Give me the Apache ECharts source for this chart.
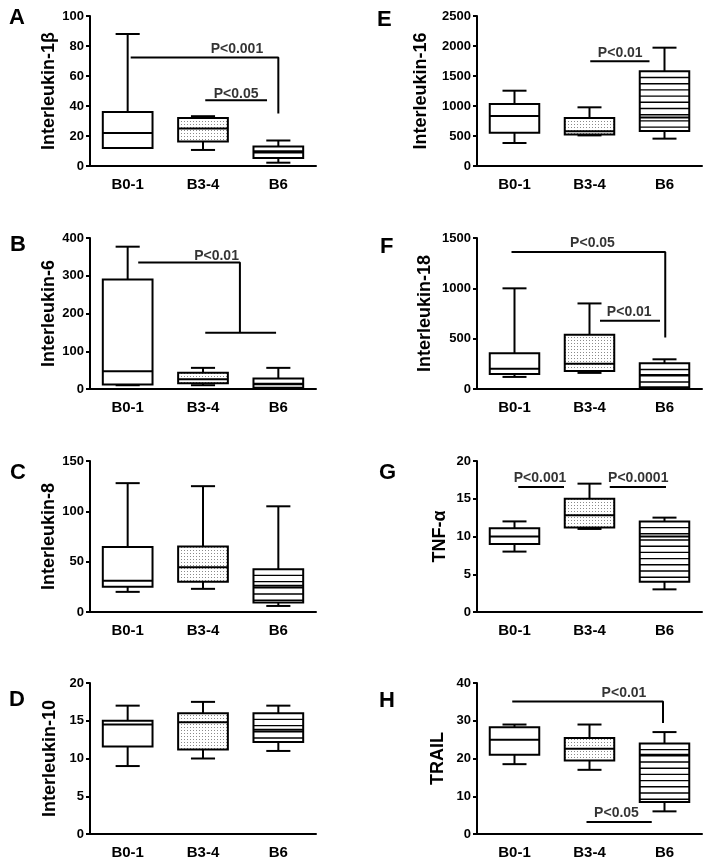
<!DOCTYPE html>
<html><head><meta charset="utf-8">
<script src="https://cdn.jsdelivr.net/npm/echarts@6/dist/echarts.min.js"></script>
<style>html,body{margin:0;padding:0;background:#fff}#c{width:714px;height:867px}</style>
</head><body><div id="c"></div><script>
const categories = ['B0-1','B3-4','B6'];
// each group: [min, q1, median, q3, max]
const il1b  = [[12,12,22,36,88],[10.7,16.3,25,32,33.2],[2.2,5.3,9.8,13,17]];
const il6   = [[10,12,47,290,377],[10,15,26,43,56],[1,3,14,28,56]];
const il8   = [[20,25,31,64.5,128],[23,30,44.5,65,125],[6,9.5,26,42.5,105]];
const il10  = [[9,11.6,14.5,15,17],[10,11.2,14.8,16,17.5],[11,12.2,13.8,16,17]];
const il16  = [[383,556,833,1033,1255],[510,525,580,800,978],[456,583,807,1578,1972]];
const il18  = [[120,150,200,355,1000],[160,180,250,540,850],[5,17,140,255,295]];
const tnfa  = [[8,9,10,11.1,12],[11,11.2,12.8,15,17],[3,4,10,12,12.5]];
const trail = [[18.5,21,25,28.3,29],[17,19.5,22.6,25.4,29],[6,8.5,21,24,27]];

// axis names and ranges
const yNames = ['Interleukin-1β','Interleukin-6','Interleukin-8','Interleukin-10','Interleukin-16','Interleukin-18','TNF-α','TRAIL'];
const yMax = [100,400,150,20,2500,1500,20,40];
const yStep = [20,100,50,5,500,500,5,10];
const letters = ['A','B','C','D','E','F','G','H'];

// significance brackets (x in category units, y in data units)
const brA = [[[0.04,72.4],[2,72.4],[2,35]], [[1.03,43.9],[1.85,43.9]]];
const brB = [[[0.14,335],[1.49,335],[1.49,149]], [[1.03,149],[1.97,149]]];
const brC = [];
const brD = [];
const brE = [[[1.01,1744],[1.80,1744]]];
const brF = [[[-0.04,1361],[2.01,1361],[2.01,511]], [[1.14,677],[1.94,677]]];
const brG = [[[0.05,16.56],[0.66,16.56]], [[1.27,16.56],[2.02,16.56]]];
const brH = [[[-0.03,35.1],[1.98,35.1],[1.98,29.4]], [[0.96,3.19],[1.83,3.19]]];
// p-value labels: [text, x, y]
const pA = [['P<0.001',1.45,78.2],['P<0.05',1.44,47.8]];
const pB = [['P<0.01',1.18,351]];
const pC = [];
const pD = [];
const pE = [['P<0.01',1.41,1883]];
const pF = [['P<0.05',1.04,1447],['P<0.01',1.53,762]];
const pG = [['P<0.001',0.34,17.7],['P<0.0001',1.65,17.7]];
const pH = [['P<0.01',1.46,37.4],['P<0.05',1.36,5.5]];

const allData = [il1b, il6, il8, il10, il16, il18, tnfa, trail];
const allBr = [brA, brB, brC, brD, brE, brF, brG, brH];
const allP = [pA, pB, pC, pD, pE, pF, pG, pH];

// layout (pixels)
const colLeft = [90, 477];
const colWidth = [226, 225];
const rowTop = [16, 238, 461, 683];
const rowH = [150, 151, 151, 151];
const nameGaps = [30, 32, 31, 31, 47, 43, 28, 30];
const letterPos = [[9,7],[10,234],[10,462],[9,689],[377,9],[380,236],[379,462],[379,690]];

const FONT = '"Liberation Sans", Arial, Helvetica, sans-serif';

// dot pattern
const dotCanvas = document.createElement('canvas');
dotCanvas.width = 3; dotCanvas.height = 3;
(function(){const c = dotCanvas.getContext('2d'); c.fillStyle='#fff'; c.fillRect(0,0,3,3); c.fillStyle='#8a8a8a'; c.fillRect(1,1,1,1);})();

function renderBox(params, api) {
  const ci = api.value(0);
  const v = [api.value(1), api.value(2), api.value(3), api.value(4), api.value(5)];
  const xc = api.coord([ci, 0])[0];
  const band = api.size([1, 0])[0];
  const bw = band * 0.66, cw = band * 0.32;
  const y = v.map(val => api.coord([ci, val])[1]);
  const ls = {stroke: '#000', lineWidth: 2, fill: null};
  const ch = [];
  ch.push({type:'line', shape:{x1:xc, y1:y[3], x2:xc, y2:y[4]}, style:ls});
  ch.push({type:'line', shape:{x1:xc, y1:y[0], x2:xc, y2:y[1]}, style:ls});
  ch.push({type:'line', shape:{x1:xc-cw/2, y1:y[4], x2:xc+cw/2, y2:y[4]}, style:ls});
  ch.push({type:'line', shape:{x1:xc-cw/2, y1:y[0], x2:xc+cw/2, y2:y[0]}, style:ls});
  let fill = '#fff';
  if (ci === 1) fill = {image: dotCanvas, repeat: 'repeat'};
  ch.push({type:'rect', shape:{x:xc-bw/2, y:y[3], width:bw, height:y[1]-y[3]}, style:{fill: fill, stroke: null}});
  if (ci === 2) {
    for (let yy = y[3] + 6.2; yy < y[1] - 2; yy += 6.2) {
      ch.push({type:'line', shape:{x1:xc-bw/2, y1:yy, x2:xc+bw/2, y2:yy}, style:{stroke:'#000', lineWidth:1.4}});
    }
  }
  ch.push({type:'rect', shape:{x:xc-bw/2, y:y[3], width:bw, height:y[1]-y[3]}, style:{fill:null, stroke:'#000', lineWidth:2}});
  ch.push({type:'line', shape:{x1:xc-bw/2, y1:y[2], x2:xc+bw/2, y2:y[2]}, style:ls});
  return {type:'group', children: ch};
}

const grid = [], xAxis = [], yAxis = [], series = [], title = [];
for (let i = 0; i < 8; i++) {
  const col = i < 4 ? 0 : 1, row = i % 4;
  grid.push({left: colLeft[col], top: rowTop[row], width: colWidth[col], height: rowH[row], containLabel: false});
  xAxis.push({
    type: 'category', gridIndex: i, data: categories,
    axisLine: {onZero: false, lineStyle: {color: '#000', width: 2}},
    axisTick: {alignWithLabel: true, length: 5, lineStyle: {color: '#000', width: 2}},
    axisLabel: {color: '#000', fontSize: 15, fontWeight: 'bold', fontFamily: FONT, margin: 11},
    splitLine: {show: false}
  });
  xAxis.push({type: 'value', gridIndex: i, min: -0.5, max: 2.5, show: false});
  yAxis.push({
    type: 'value', gridIndex: i, min: 0, max: yMax[i], interval: yStep[i],
    name: yNames[i], nameLocation: 'middle', nameGap: nameGaps[i],
    nameTextStyle: {color: '#000', fontSize: 18, fontWeight: 'bold', fontFamily: FONT},
    axisLine: {show: true, onZero: false, lineStyle: {color: '#000', width: 2}},
    axisTick: {show: true, length: 4, lineStyle: {color: '#000', width: 2}},
    axisLabel: {color: '#000', fontSize: 13, fontWeight: 'bold', fontFamily: FONT, margin: 6,
      formatter: v => String(v)},
    splitLine: {show: false}
  });
  series.push({
    type: 'custom', xAxisIndex: 2*i, yAxisIndex: i,
    renderItem: renderBox, clip: false,
    encode: {x: 0, y: [1,2,3,4,5]},
    data: allData[i].map((d, k) => [k].concat(d)),
    animation: false
  });
  allBr[i].forEach(path => {
    series.push({
      type: 'line', xAxisIndex: 2*i+1, yAxisIndex: i, data: path,
      symbol: 'none', lineStyle: {color: '#000', width: 2}, animation: false, silent: true
    });
  });
  if (allP[i].length) {
    series.push({
      type: 'scatter', xAxisIndex: 2*i+1, yAxisIndex: i, symbolSize: 1,
      itemStyle: {color: 'transparent'},
      data: allP[i].map(p => ({name: p[0], value: [p[1], p[2]]})),
      label: {show: true, position: 'inside', formatter: '{b}', color: '#000', fontSize: 14, fontWeight: 'bold', fontFamily: FONT},
      animation: false, silent: true
    });
  }
  title.push({text: letters[i], left: letterPos[i][0], top: letterPos[i][1], padding: 0,
    textStyle: {color: '#000', fontSize: 22, fontWeight: 'bold', fontFamily: FONT}});
}

const chart = echarts.init(document.getElementById('c'), null, {renderer: 'canvas'});
chart.setOption({animation: false, backgroundColor: '#fff', title, grid, xAxis, yAxis, series});
</script></body></html>
